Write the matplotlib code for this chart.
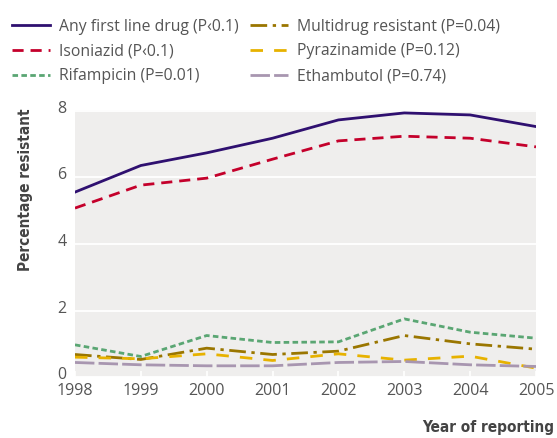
import matplotlib
matplotlib.use('Agg')
import matplotlib.pyplot as plt
import matplotlib.transforms as mtransforms

# Data
years = [1998, 1999, 2000, 2001, 2002, 2003, 2004, 2005]
any_first = [5.56, 6.36, 6.74, 7.18, 7.73, 7.94, 7.88, 7.53]
isoniazid = [5.08, 5.77, 5.98, 6.55, 7.10, 7.24, 7.18, 6.92]
rifampicin = [0.97, 0.62, 1.25, 1.04, 1.06, 1.75, 1.35, 1.17]
multidrug = [0.68, 0.53, 0.87, 0.68, 0.78, 1.25, 1.00, 0.84]
pyrazinamide = [0.60, 0.55, 0.70, 0.50, 0.70, 0.51, 0.63, 0.27]
ethambutol = [0.44, 0.37, 0.34, 0.34, 0.44, 0.47, 0.37, 0.32]

labels = ['Any first line drug (P\u20390.1)', 'Isoniazid (P\u20390.1)',
          'Rifampicin (P=0.01)', 'Multidrug resistant (P=0.04)',
          'Pyrazinamide (P=0.12)', 'Ethambutol (P=0.74)']

plt.rcParams['font.family'] = ['Open Sans', 'DejaVu Sans']

fig = plt.figure(figsize=(5.57, 4.38), dpi=100)
ax = fig.add_axes([0.1346, 0.139, 0.8277, 0.61])
ax.set_facecolor('#efeeed')

lw = 2.0
ax.plot(years, any_first, color='#2f1070', lw=lw, label=labels[0])
ax.plot(years, isoniazid, color='#c4002b', lw=lw, dashes=(4, 2.5), label=labels[1])
ax.plot(years, rifampicin, color='#5aa673', lw=lw, dashes=(2, 1.2), label=labels[2])
ax.plot(years, multidrug, color='#9a7600', lw=lw, dashes=(6, 2, 1.2, 2), label=labels[3])
ax.plot(years, pyrazinamide, color='#e7b200', lw=lw, dashes=(4.5, 4), label=labels[4])
ax.plot(years, ethambutol, color='#a896b0', lw=lw, dashes=(7, 1.5), label=labels[5])

ax.set_xlim(1998, 2005)
ax.set_ylim(0, 8.03)
ax.set_yticks([0, 2, 4, 6, 8])
ax.set_xticks(years)
ax.grid(axis='y', color='white', lw=1.3)
ax.set_axisbelow(True)
for s in ax.spines.values():
    s.set_visible(False)
ax.tick_params(axis='x', direction='in', color='white', length=4, width=1.2,
               labelsize=11.5, labelcolor='#555555', pad=4)
ax.tick_params(axis='y', length=0, labelsize=11.5, labelcolor='#555555', pad=6)
shift = mtransforms.ScaledTranslation(0, 4 / 100, fig.dpi_scale_trans)
for t in ax.get_yticklabels():
    t.set_transform(t.get_transform() + shift)

fig.text(0.045, 0.568, 'Percentage resistant', rotation=90, ha='center', va='center',
         fontsize=11, fontweight='bold', fontstretch='condensed', color='#444444',
         family='DejaVu Sans')
fig.text(0.995, 0.025, 'Year of reporting', ha='right', va='center',
         fontsize=11, fontweight='bold', fontstretch='condensed', color='#444444',
         family='DejaVu Sans')

fig.legend(loc='upper left', bbox_to_anchor=(-0.003, 0.99), ncol=2, frameon=False,
           fontsize=11.3, handlelength=2.4, handletextpad=0.55, columnspacing=0.75,
           labelspacing=0.56, labelcolor='#555555')

fig.savefig('out.png', dpi=100)
